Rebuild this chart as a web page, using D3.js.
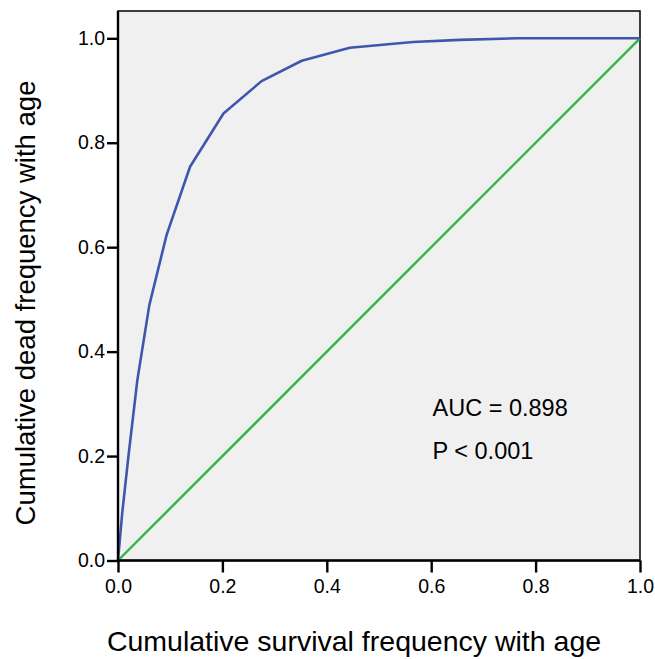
<!DOCTYPE html>
<html>
<head>
<meta charset="utf-8">
<script src="https://cdn.jsdelivr.net/npm/d3@7"></script>
<style>
  html, body { margin: 0; padding: 0; background: #ffffff; }
  svg { display: block; font-family: Arial, "Liberation Sans", Helvetica, sans-serif; }
</style>
</head>
<body>
<svg id="chart" width="655" height="659"></svg>
<script>
// ROC curve data (false positive rate = cumulative survival freq, true positive rate = cumulative dead freq)
const fpr = [0, 0.008, 0.020, 0.037, 0.060, 0.093, 0.138, 0.202, 0.275, 0.352, 0.444, 0.565, 0.655, 0.765, 1.0];
const tpr = [0, 0.090, 0.200, 0.345, 0.489, 0.623, 0.754, 0.856, 0.918, 0.957, 0.982, 0.993, 0.997, 1.000, 1.0];
const refX = [0, 1];
const refY = [0, 1];
const xTicks = [0, 0.2, 0.4, 0.6, 0.8, 1.0];
const yTicks = [0, 0.2, 0.4, 0.6, 0.8, 1.0];
const xTitle = "Cumulative survival frequency with age";
const yTitle = "Cumulative dead frequency with age";
const annotations = ["AUC = 0.898", "P < 0.001"];

const svg = d3.select("#chart");
const pLeft = 118, pRight = 640, pTop = 11, pBottom = 560.5;
const x = d3.scaleLinear().domain([0, 1]).range([pLeft, pRight]);
const y = d3.scaleLinear().domain([0, 1]).range([pBottom, 38.3]);

// plot background + frame
svg.append("rect")
  .attr("x", pLeft).attr("y", pTop)
  .attr("width", pRight - pLeft).attr("height", pBottom - pTop)
  .attr("fill", "#f0f0f0")
  .attr("stroke", "#000").attr("stroke-width", 1.5);

// reference diagonal
svg.append("path")
  .datum(refX.map((d, i) => [d, refY[i]]))
  .attr("d", d3.line().x(d => x(d[0])).y(d => y(d[1])))
  .attr("fill", "none").attr("stroke", "#2fb548").attr("stroke-width", 2.4);

// ROC curve
svg.append("path")
  .datum(fpr.map((d, i) => [d, tpr[i]]))
  .attr("d", d3.line().x(d => x(d[0])).y(d => y(d[1])))
  .attr("fill", "none").attr("stroke", "#3e57ad").attr("stroke-width", 2.6)
  .attr("stroke-linejoin", "round");

// axes
const xAxis = d3.axisBottom(x).tickValues(xTicks).tickFormat(d3.format(".1f"))
  .tickSizeInner(12).tickSizeOuter(0).tickPadding(7);
const yAxis = d3.axisLeft(y).tickValues(yTicks).tickFormat(d3.format(".1f"))
  .tickSizeInner(11).tickSizeOuter(0).tickPadding(2);

const gx = svg.append("g").attr("transform", `translate(0,${pBottom})`).call(xAxis);
const gy = svg.append("g").attr("transform", `translate(${pLeft},0)`).call(yAxis);
[gx, gy].forEach(g => {
  g.select(".domain").remove();
  g.selectAll(".tick line").attr("stroke", "#000").attr("stroke-width", 2.4);
  g.selectAll(".tick text").attr("fill", "#000").style("font-size", "19.5px")
    .style("font-family", "Arial, 'Liberation Sans', sans-serif");
});
// axis lines drawn thicker
svg.append("line").attr("x1", pLeft).attr("x2", pRight).attr("y1", pBottom).attr("y2", pBottom)
  .attr("stroke", "#000").attr("stroke-width", 2.4);
svg.append("line").attr("x1", pLeft).attr("x2", pLeft).attr("y1", pTop).attr("y2", pBottom)
  .attr("stroke", "#000").attr("stroke-width", 2.4);

// axis titles
svg.append("text").attr("x", 354).attr("y", 651)
  .attr("text-anchor", "middle").style("font-size", "28.5px").attr("fill", "#000")
  .text(xTitle);
svg.append("text").attr("transform", "translate(35,303) rotate(-90)")
  .attr("text-anchor", "middle").style("font-size", "27.5px").attr("fill", "#000")
  .text(yTitle);

// annotations
svg.selectAll("text.ann").data(annotations).enter().append("text")
  .attr("class", "ann")
  .attr("x", 432.5)
  .attr("y", (d, i) => 416 + i * 43)
  .style("font-size", "23.5px").attr("fill", "#000")
  .text(d => d);
</script>
</body>
</html>
